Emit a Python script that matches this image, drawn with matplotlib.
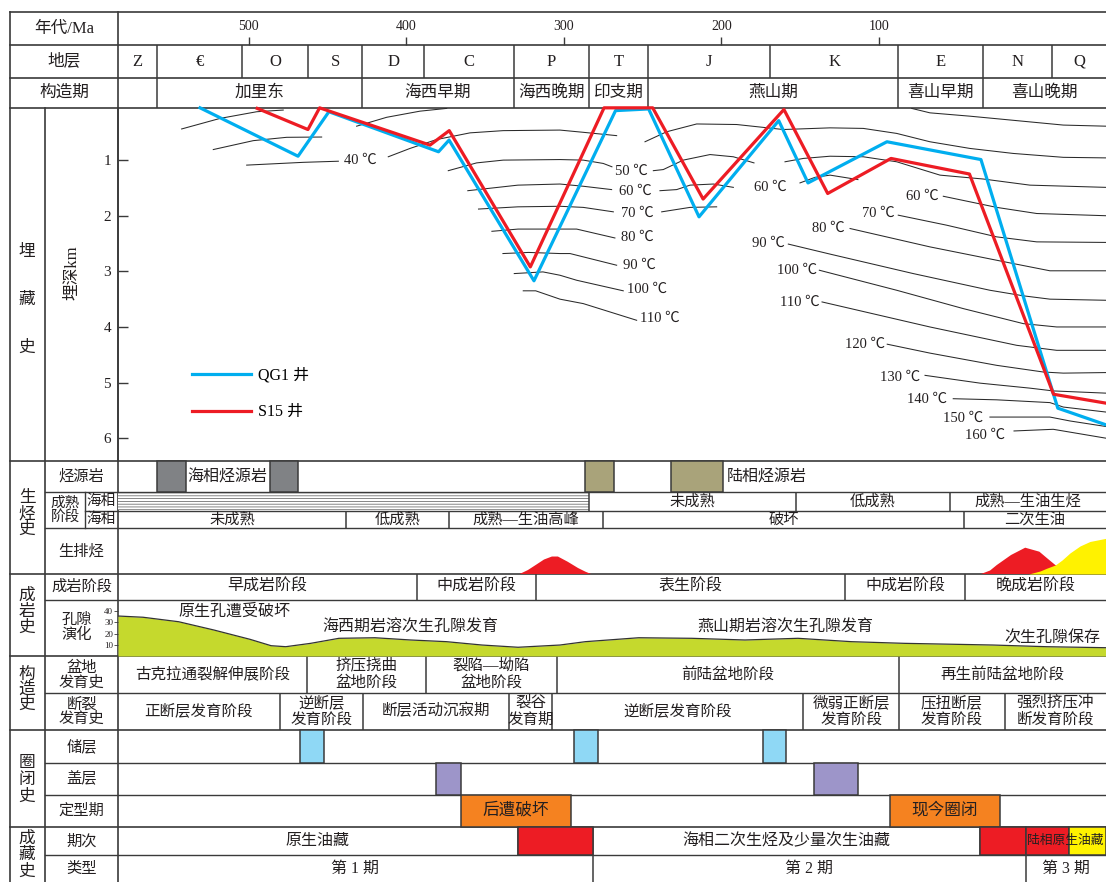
import matplotlib
matplotlib.use('Agg')
import matplotlib.pyplot as plt
from matplotlib.patches import Rectangle

plt.rcParams['font.family'] = ['Liberation Serif', 'Noto Sans CJK SC', 'DejaVu Sans']
plt.rcParams['hatch.linewidth'] = 0.5
plt.rcParams['hatch.color'] = '#555555'

W, H = 1106, 882
INK = '#231f20'
RULE = '#3a3a3a'
BLUE = '#00aeef'
RED = '#ed1c24'
YELLOW = '#fff200'
GREEN = '#c5d92d'

# time axis (Ma), left and right edge of the chart body
MA_LEFT, MA_RIGHT = 583.1, -44.2
AGE_TICKS = [500, 400, 300, 200, 100]

STRAT_EDGES = [583.1, 558.4, 504.4, 462.5, 427.9, 388.8, 331.9, 284.1, 246.6, 169.1, 87.7, 33.7, -10.0, -44.2]
STRAT_NAMES = ['Z', '€', 'O', 'S', 'D', 'C', 'P', 'T', 'J', 'K', 'E', 'N', 'Q']
TECT_EDGES = [583.1, 558.4, 427.9, 331.9, 284.1, 246.6, 87.7, 33.7, -44.2]
TECT_NAMES = ['', '加里东', '海西早期', '海西晚期', '印支期', '燕山期', '喜山早期', '喜山晚期']

# burial history, depth in km
QG1_MA = [531.0, 468.8, 449.2, 379.6, 372.9, 319.0, 267.2, 246.2, 214.2, 163.6, 145.0, 94.9, 35.2, -13.6, -44.2]
QG1_KM = [0.06, 0.93, 0.13, 0.85, 0.64, 3.17, 0.11, 0.08, 2.02, 0.29, 1.41, 0.67, 0.99, 5.46, 5.76]
S15_MA = [494.7, 462.5, 455.1, 385.0, 372.8, 321.3, 274.5, 243.6, 211.6, 160.3, 132.5, 92.3, 42.5, -10.9, -44.2]
S15_KM = [0.07, 0.45, 0.06, 0.73, 0.47, 2.92, 0.06, 0.06, 1.70, 0.09, 1.60, 0.97, 1.25, 5.21, 5.37]
DEPTH_TICKS = [1, 2, 3, 4, 5, 6]

# isotherm traces (Ma, km)
ISOTHERMS = [
    [(542.7, 0.44), (518.3, 0.25), (495.0, 0.13), (478.2, 0.10)],
    [(522.6, 0.81), (497.2, 0.65), (476.0, 0.59), (453.8, 0.585)],
    [(501.4, 1.09), (465.5, 1.04), (443.2, 1.02)],
    [(411.5, 0.94), (397.7, 0.79), (380.8, 0.63), (359.6, 0.51), (338.5, 0.47), (302.5, 0.46), (287.7, 0.50), (266.5, 0.56)],
    [(431.6, 0.39), (412.5, 0.23), (391.4, 0.12), (374.4, 0.07)],
    [(373.4, 1.19), (355.4, 1.05), (338.5, 1.0), (302.5, 0.99), (287.7, 1.0), (275.0, 1.06), (269.5, 1.12)],
    [(243.2, 1.19), (236.9, 1.17), (224.2, 1.0), (207.2, 0.90), (192.4, 0.94), (179.3, 1.05)],
    [(361.0, 1.55), (329.2, 1.45), (302.5, 1.43), (287.7, 1.47), (269.7, 1.53)],
    [(239.0, 1.55), (228.4, 1.53), (219.9, 1.45), (205.1, 1.43), (192.4, 1.49)],
    [(354.2, 1.88), (329.2, 1.84), (302.5, 1.83), (287.7, 1.85), (268.6, 1.93)],
    [(237.9, 1.93), (219.9, 1.85), (203.0, 1.84)],
    [(345.7, 2.28), (329.1, 2.24), (302.5, 2.24), (291.9, 2.24), (267.6, 2.40)],
    [(338.7, 2.68), (322.4, 2.66), (302.5, 2.68), (296.1, 2.68), (266.5, 2.89)],
    [(331.5, 3.04), (313.3, 3.01), (302.5, 3.07), (291.9, 3.16), (262.3, 3.35)],
    [(325.8, 3.35), (317.9, 3.35), (302.5, 3.50), (287.7, 3.58), (253.8, 3.88)],
    [(248.5, 0.67), (234.7, 0.49), (215.7, 0.35), (190.3, 0.36), (160.7, 0.45), (131.0, 0.42), (109.9, 0.43),
     (88.7, 0.52), (67.6, 0.67), (42.2, 0.79), (14.7, 0.88), (-17.1, 0.95), (-44.2, 0.96)],
    [(79.2, 0.07), (67.6, 0.15), (42.2, 0.21), (12.5, 0.29), (-17.1, 0.37), (-44.2, 0.39)],
    [(159.6, 1.03), (148.0, 0.97), (131.0, 0.93), (109.9, 0.94), (88.7, 1.03), (61.2, 1.27), (33.7, 1.34),
     (4.1, 1.45), (-44.2, 1.49)],
    [(150.1, 1.41), (140.6, 1.31), (131.0, 1.27), (113.3, 1.35)],
    [(59.1, 1.65), (25.2, 1.85), (-0.2, 1.96), (-44.2, 2.0)],
    [(87.7, 1.99), (57.0, 2.17), (25.2, 2.38), (-0.2, 2.47), (-44.2, 2.48)],
    [(118.3, 2.23), (67.6, 2.56), (14.7, 2.86), (-8.6, 2.99), (-44.2, 2.99)],
    [(157.5, 2.51), (131.0, 2.69), (78.2, 3.04), (29.5, 3.34), (8.3, 3.44), (-8.6, 3.50), (-44.2, 3.52)],
    [(137.8, 2.98), (88.7, 3.34), (46.4, 3.67), (8.3, 3.94), (-12.9, 4.0), (-44.2, 4.0)],
    [(136.1, 3.55), (67.6, 4.0), (12.5, 4.33), (-12.9, 4.42), (-44.2, 4.42)],
    [(94.7, 4.31), (67.6, 4.47), (25.2, 4.69), (-4.4, 4.81), (-17.1, 4.83), (-44.2, 4.82)],
    [(70.7, 4.87), (35.8, 5.01), (4.1, 5.10), (-10.7, 5.15), (-44.2, 5.19)],
    [(52.8, 5.29), (25.2, 5.31), (-8.6, 5.36), (-17.1, 5.44), (-44.2, 5.53)],
    [(29.5, 5.62), (-8.6, 5.62), (-21.3, 5.69), (-44.2, 5.79)],
    [(14.2, 5.87), (-10.7, 5.84), (-44.2, 6.0)],
]
ISO_LABELS = [
    ('40 ℃', 429.5, 1.0), ('50 ℃', 257.0, 1.20), ('60 ℃', 254.9, 1.57), ('70 ℃', 253.4, 1.96),
    ('80 ℃', 253.4, 2.38), ('90 ℃', 252.1, 2.90), ('100 ℃', 247.4, 3.32), ('110 ℃', 239.0, 3.85),
    ('60 ℃', 169.1, 1.49), ('60 ℃', 72.2, 1.65), ('70 ℃', 100.4, 1.95), ('80 ℃', 132.3, 2.23),
    ('90 ℃', 170.2, 2.50), ('100 ℃', 152.2, 2.98), ('110 ℃', 150.1, 3.55), ('120 ℃', 108.8, 4.31),
    ('130 ℃', 86.6, 4.90), ('140 ℃', 69.7, 5.31), ('150 ℃', 46.4, 5.64), ('160 ℃', 32.6, 5.94),
]

# source rocks and maturity
MARINE_SRC = [(558.4, 540.1), (486.9, 469.1)]
TERR_SRC = [(286.3, 267.9), (231.8, 199.2)]
HATCH_END = 284.1
MAT_UP_EDGES = [284.1, 152.8, 54.9, -44.2]
MAT_UP_NAMES = ['未成熟', '低成熟', '成熟—生油生烃']
MAT_LO_EDGES = [583.1, 438.1, 373.0, 275.2, 46.0, -44.2]
MAT_LO_NAMES = ['未成熟', '低成熟', '成熟—生油高峰', '破坏', '二次生油']

# hydrocarbon generation pulses (relative intensity)
GEN1_MA = [328.1, 322.8, 317.9, 312.6, 307.6, 303.8, 297.6, 291.0, 286.3, 282.8]
GEN1_V = [0, 0.087, 0.196, 0.315, 0.38, 0.38, 0.267, 0.13, 0.05, 0]
GEN2_MA = [35.2, 29.4, 25.1, 16.1, 7.1, -1.9, -7.4, -12.0, -18.2, -22.6]
GEN2_V = [0, 0.076, 0.196, 0.413, 0.572, 0.485, 0.326, 0.196, 0.065, 0]
GEN3_MA = [4.9, -2.3, -6.4, -12.0, -16.3, -21.3, -27.7, -34.0, -44.2]
GEN3_V = [0, 0.065, 0.124, 0.196, 0.304, 0.457, 0.609, 0.707, 0.776]

DIAG_EDGES = [583.1, 393.4, 317.5, 121.3, 45.2, -44.2]
DIAG_NAMES = ['早成岩阶段', '中成岩阶段', '表生阶段', '中成岩阶段', '晚成岩阶段']

# porosity (%)
POR_MA = [583.1, 567.2, 544.6, 522.2, 499.3, 485.9, 476.6, 460.8, 442.8, 420.0, 397.3, 374.6, 352.0,
          329.1, 302.5, 286.3, 252.5, 218.8, 185.0, 151.4, 117.5, 83.7, 49.9, 27.6, -6.4, -44.2]
POR_V = [35.7, 34.6, 30.6, 23.2, 14.9, 9.2, 8.3, 11.3, 15.8, 16.3, 14.3, 12.8, 9.8,
         7.8, 9.8, 12.8, 16.3, 15.8, 14.3, 15.8, 12.8, 11.3, 10.4, 9.8, 8.3, 7.4]
POR_NOTES = [('原生孔遭受破坏', 509.4, 611.5), ('海西期岩溶次生孔隙发育', 397.3, 627.5),
             ('燕山期岩溶次生孔隙发育', 159.1, 627.5), ('次生孔隙保存', -9.8, 637.5)]

BASIN_EDGES = [583.1, 463.1, 387.7, 304.6, 87.0, -44.2]
BASIN_NAMES = ['古克拉通裂解伸展阶段', '挤压挠曲\n盆地阶段', '裂陷—坳陷\n盆地阶段', '前陆盆地阶段', '再生前陆盆地阶段']
FAULT_EDGES = [583.1, 480.5, 427.4, 334.9, 307.3, 148.3, 87.0, 20.2, -44.2]
FAULT_NAMES = ['正断层发育阶段', '逆断层\n发育阶段', '断层活动沉寂期', '裂谷\n发育期', '逆断层发育阶段',
               '微弱正断层\n发育阶段', '压扭断层\n发育阶段', '强烈挤压冲\n断发育阶段']

RESERVOIRS = [(467.6, 452.2), (293.6, 278.4), (173.7, 158.7)]
SEALS = [(381.0, 365.5), (141.1, 113.4)]
TRAPS = [(365.1, 295.7, '后遭破坏'), (92.7, 23.4, '现今圈闭')]

POOL_EDGES = [583.1, 329.2, 281.8, 35.9, 6.7, -21.0, -44.2]
POOL_FILL = ['white', RED, 'white', RED, RED, YELLOW]
POOL_NAMES = ['原生油藏', '', '海相二次生烃及少量次生油藏', '', '', '']
STAGE_EDGES = [583.1, 281.8, 6.7, -44.2]
STAGE_NAMES = ['第 1 期', '第 2 期', '第 3 期']

fig = plt.figure(figsize=(W / 100, H / 100), dpi=100)


def place(x0, y0, x1, y1):
    return [x0 / W, 1 - y1 / H, (x1 - x0) / W, (y1 - y0) / H]


# frame axes in pixel units for the label columns and rules
fr = fig.add_axes([0, 0, 1, 1])
fr.set_xlim(0, W)
fr.set_ylim(H, 0)
fr.axis('off')

for y in [12, 45, 78, 108, 461, 574, 656, 730, 827]:
    fr.plot([10, W], [y, y], color=RULE, lw=1.2)
for y in [492, 528, 600, 693, 763, 795, 855]:
    fr.plot([45, W], [y, y], color=RULE, lw=1.0)
fr.plot([85, W], [511, 511], color=RULE, lw=1.0)
fr.plot([10, 10], [12, H], color=RULE, lw=1.2)
fr.plot([45, 45], [108, H], color=RULE, lw=1.2)
fr.plot([118, 118], [12, H], color=RULE, lw=1.2)
fr.plot([85, 85], [492, 528], color=RULE, lw=1.0)


def ftext(x, y, s, size=11.5, **kw):
    fr.text(x, y, s, ha='center', va='center', fontsize=size, color=INK, **kw)


ftext(64, 28.5, '年代/Ma', 12)
ftext(64, 61.5, '地层', 12)
ftext(64, 93, '构造期', 12)

for chars, yc, step in [('埋藏史', 300, 48), ('生烃史', 514, 16), ('成岩史', 612, 16),
                        ('构造史', 690, 15), ('圈闭史', 780, 16.5), ('成藏史', 855, 16.5)]:
    for i, ch in enumerate(chars):
        ftext(27, yc + (i - 1) * step, ch, 12)

for s, y in [('烃源岩', 476.5), ('生排烃', 551), ('成岩阶段', 587), ('盆地\n发育史', 675),
             ('断裂\n发育史', 711.5), ('储层', 746.5), ('盖层', 779), ('定型期', 811),
             ('期次', 841), ('类型', 868.5)]:
    ftext(81.5, y, s, 11, linespacing=1.05)
ftext(77, 627, '孔隙\n演化', 11, linespacing=1.1)
ftext(65, 510, '成熟\n阶段', 10.5, linespacing=1.0)
ftext(101.5, 501.5, '海相', 10.5)
ftext(101.5, 519.5, '海相', 10.5)
ftext(72, 273, '埋深km', 12, rotation=90)

# table body on the time axis
tb = fig.add_axes(place(118, 12, W, H))
tb.set_xlim(MA_LEFT, MA_RIGHT)
tb.set_ylim(H, 12)
tb.axis('off')


def cell_row(edges, names, top, bot, size=11.5, lines=True):
    if lines:
        tb.vlines(edges[1:-1], top, bot, color=RULE, lw=1.1)
    for a, b, name in zip(edges[:-1], edges[1:], names):
        if name:
            tb.text((a + b) / 2, (top + bot) / 2, name, ha='center', va='center',
                    fontsize=size, color=INK, linespacing=1.12)


def blocks(spans, top, bot, color):
    for a, b in spans:
        tb.add_patch(Rectangle((b, top), a - b, bot - top, facecolor=color,
                               edgecolor=RULE, lw=1.1, zorder=3))


tb.vlines(AGE_TICKS, 37, 45, color=RULE, lw=1.0)
for a in AGE_TICKS:
    tb.text(a, 27, str(a), ha='center', va='center', fontsize=10, color=INK)
cell_row(STRAT_EDGES, STRAT_NAMES, 45, 78, 12)
cell_row(TECT_EDGES, TECT_NAMES, 78, 108, 12)

blocks(MARINE_SRC, 461, 492, '#808285')
blocks(TERR_SRC, 461, 492, '#a9a37a')
tb.text(513.7, 477, '海相烃源岩', ha='center', va='center', fontsize=11.5, color=INK)
tb.text(196.4, 477, '陆相烃源岩', ha='left', va='center', fontsize=11.5, color=INK)

tb.add_patch(Rectangle((HATCH_END, 493), MA_LEFT - HATCH_END, 17, facecolor='white',
                       edgecolor='#555555', hatch='------', lw=0))
tb.vlines([HATCH_END], 492, 511, color=RULE, lw=1.1)
cell_row(MAT_UP_EDGES, MAT_UP_NAMES, 492, 511, 11)
cell_row(MAT_LO_EDGES, MAT_LO_NAMES, 511, 528, 11)
cell_row(DIAG_EDGES, DIAG_NAMES, 574, 600, 11.5)
cell_row(BASIN_EDGES, BASIN_NAMES, 656, 693, 11.2)
cell_row(FAULT_EDGES, FAULT_NAMES, 693, 730, 11.2)

blocks(RESERVOIRS, 730, 763, '#8fd8f5')
blocks(SEALS, 763, 795, '#9d95c9')
for a, b, name in TRAPS:
    blocks([(a, b)], 795, 827, '#f58220')
    tb.text((a + b) / 2, 811, name, ha='center', va='center', fontsize=12, color=INK, zorder=4)

for a, b, c in zip(POOL_EDGES[:-1], POOL_EDGES[1:], POOL_FILL):
    if c != 'white':
        blocks([(a, b)], 827, 855, c)
cell_row(POOL_EDGES, POOL_NAMES, 827, 855, 11.5, lines=False)
tb.vlines(POOL_EDGES[1:5], 827, 855, color=RULE, lw=1.1)
tb.text(POOL_EDGES[4] - 0.8, 841, '陆相原生油藏', ha='left', va='center', fontsize=9.2, color=INK, zorder=4)
cell_row(STAGE_EDGES, STAGE_NAMES, 855, H, 11.5)

for s, ma, y in POR_NOTES:
    tb.text(ma, y, s, ha='center', va='center', fontsize=11.5, color=INK, zorder=5)

# burial history
bx = fig.add_axes(place(118, 108, W, 461))
bx.set_xlim(MA_LEFT, MA_RIGHT)
bx.set_ylim(6.41, 0.063)
bx.patch.set_visible(False)
for s in ['top', 'right', 'bottom']:
    bx.spines[s].set_visible(False)
bx.spines['left'].set_color(RULE)
bx.spines['left'].set_linewidth(1.2)
bx.set_xticks([])
bx.set_yticks(DEPTH_TICKS)
bx.tick_params(axis='y', direction='in', length=7, width=1, pad=5, labelsize=11,
               colors=INK, color=RULE)

for line in ISOTHERMS:
    ma, km = zip(*line)
    bx.plot(ma, km, color='#2a2a2a', lw=0.75, zorder=2)
for s, ma, km in ISO_LABELS:
    bx.text(ma, km, s, ha='center', va='center', fontsize=10.5, color=INK)

bx.plot(QG1_MA, QG1_KM, color=BLUE, lw=2.3, label='QG1 井', zorder=4, clip_on=False)
bx.plot(S15_MA, S15_KM, color=RED, lw=2.3, label='S15 井', zorder=4, clip_on=False)
bx.legend(loc='upper left', bbox_to_anchor=(0.075, 0.265), frameon=False, fontsize=11.5,
          handlelength=3.7, handletextpad=0.45, labelspacing=1.3, borderpad=0, borderaxespad=0)

# generation pulses
hx = fig.add_axes(place(118, 528, W, 574))
hx.set_xlim(MA_LEFT, MA_RIGHT)
hx.set_ylim(0, 1)
hx.axis('off')
hx.fill(GEN1_MA, GEN1_V, color=RED, lw=0)
hx.fill(GEN2_MA, GEN2_V, color=RED, lw=0)
hx.fill_between(GEN3_MA, GEN3_V, 0, color=YELLOW, lw=0)

# porosity evolution
px = fig.add_axes(place(118, 600, W, 656))
px.set_xlim(MA_LEFT, MA_RIGHT)
px.set_ylim(0, 50)
px.patch.set_visible(False)
for s in px.spines.values():
    s.set_visible(False)
px.set_xticks([])
px.set_yticks([10, 20, 30, 40])
px.tick_params(axis='y', direction='out', length=3, width=0.6, pad=0.5, labelsize=6.5,
               colors=INK, color=RULE)
px.fill_between(POR_MA, POR_V, 0, color=GREEN, lw=0)
px.plot(POR_MA, POR_V, color='#333333', lw=0.9)

fig.savefig('out.png', dpi=100)
